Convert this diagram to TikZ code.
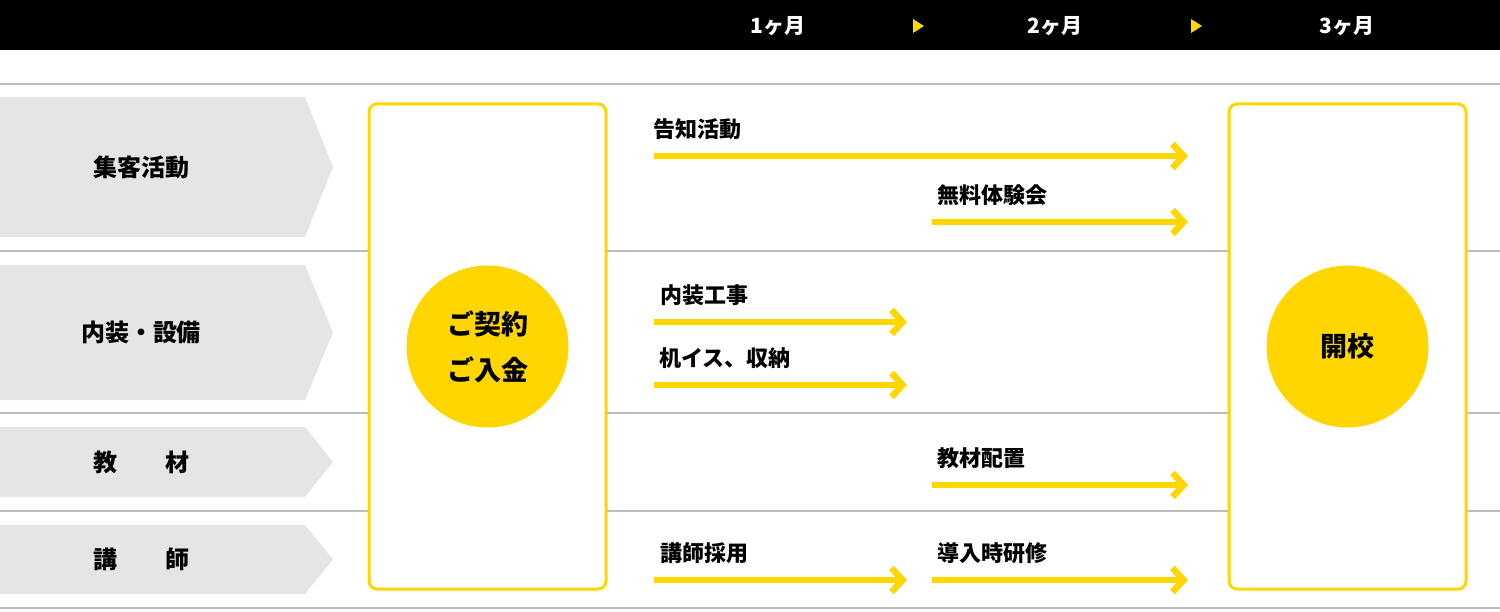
\documentclass[tikz,border=0pt]{standalone}
\usepackage{fontspec}
\setmainfont{Noto Sans CJK JP}
\usepackage{tikz}
\usetikzlibrary{arrows.meta,positioning}
\definecolor{sari}{HTML}{FFD600}
\definecolor{acikGri}{HTML}{E5E5E5}
\definecolor{cizgiGri}{HTML}{BDBDBD}

\begin{document}
\begin{tikzpicture}[x=1pt,y=-1pt,
  baslik/.style={text=white,font=\bfseries\fontsize{21}{21}\selectfont,inner sep=0pt},
  satir/.style={font=\bfseries\fontsize{24}{24}\selectfont,inner sep=0pt},
  adim/.style={font=\bfseries\fontsize{22}{22}\selectfont,anchor=west,inner sep=0pt},
  ok/.style={sari,line width=6.5pt,-{Straight Barb[length=11pt,width=24pt]}},
  kutu/.style={draw=sari,line width=3pt,fill=white,rounded corners=8pt,minimum width=237pt,minimum height=485pt},
  daire/.style={circle,fill=sari,minimum size=162pt,inner sep=0pt,align=center,font=\bfseries\fontsize{27}{46}\selectfont}]
\useasboundingbox (0,0) rectangle (1500,612);
% ust bant
\fill (0,0) rectangle (1500,50);
\foreach \x/\ay [count=\i] in {778/1,1055/2,1347/3}
  \node[baslik] (ay\i) at (\x,26) {\ay ヶ月};
\fill[sari] (913,19) -- (924,26) -- (913,33) -- cycle;
\fill[sari] (1191,19) -- (1202,26) -- (1191,33) -- cycle;
% ayirici cizgiler
\foreach \y in {84,251,413,511,608}
  \draw[cizgiGri,line width=1.5pt] (0,\y) -- (1500,\y);
% sol etiketler
\foreach \ust/\alt/\ad [count=\i] in {97/237/集客活動,265/400/内装・設備,427/497/教\hspace{2em}材,525/594/講\hspace{2em}師}{
  \fill[acikGri] (0,\ust) -- (305,\ust) -- (333,{(\ust+\alt)/2}) -- (305,\alt) -- (0,\alt) -- cycle;
  \node[satir] (satir\i) at (141,{(\ust+\alt)/2}) {\ad};
}
% kutular ve daireler
\node[kutu] (sozlesmeKutu) at (487.5,346.5) {};
\node[kutu] (acilisKutu) at (1347.5,346.5) {};
\node[daire] (sozlesme) at (sozlesmeKutu) {ご契約\\ご入金};
\node[daire] (acilis) at (acilisKutu) {開校};
% oklar
\foreach \bas/\son/\y/\kay/\ad [count=\i] in {654/1188/156/-1/告知活動,932/1188/222/5/無料体験会,654/907/322/6/内装工事,654/907/385/5/机イス、収納,932/1188/485/5/教材配置,654/907/580/6/講師採用,932/1188/580/5/導入時研修}{
  \coordinate (bas\i) at (\bas,\y);
  \coordinate (son\i) at (\son,\y);
  \draw[ok] (bas\i) -- (son\i);
  \node[adim] (adim\i) at ([shift={(\kay,-27)}]bas\i) {\ad};
}
\end{tikzpicture}
\end{document}
